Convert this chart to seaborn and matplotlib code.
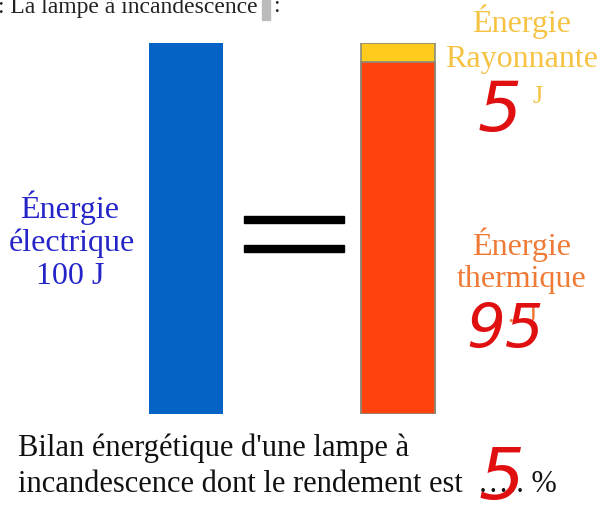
import pandas as pd
import seaborn as sns
import matplotlib.pyplot as plt

# energy balance of an incandescent lamp (J)
categories = ["électrique", "lampe"]
total_energy = [100, 100]
thermal_energy = [0, 95]
radiant_energy = 5
efficiency = 5

sns.set_theme(style="white")
plt.rcParams['font.family'] = ['Liberation Serif', 'DejaVu Serif']

fig = plt.figure(figsize=(6.03, 5.18), dpi=100)
W, H = 603, 518
# bars go from y=414 px (0 J) to y=43 px (100 J)
ax = fig.add_axes([0, (H - 414) / H, 1, (414 - 43) / H])

df = pd.DataFrame({"cat": categories, "total": total_energy, "thermal": thermal_energy})
sns.barplot(data=df, x="cat", y="total", hue="cat", palette=["#0563C6", "#FFCC1E"],
            legend=False, width=0.35, ax=ax, saturation=1)
sns.barplot(data=df, x="cat", y="thermal", color="#FF420E", width=0.35, ax=ax, saturation=1)

# outline only for the lamp bar
for p in ax.patches:
    if abs(p.get_x() + p.get_width() / 2 - 1) < 0.01 and p.get_height() > 0:
        p.set_edgecolor("#8a8a7a")
        p.set_linewidth(1.2)
    else:
        p.set_linewidth(0)

# centers at 186 px and 398 px
step = 398 - 186
ax.set_xlim(-186 / step, 1 + (W - 398) / step)
ax.set_ylim(0, 100)
ax.axis("off")

# equals sign
fig.add_artist(plt.Rectangle((244 / W, 1 - 223 / H), 100 / W, 7 / H, color="black", transform=fig.transFigure))
fig.add_artist(plt.Rectangle((244 / W, 1 - 252 / H), 100 / W, 7 / H, color="black", transform=fig.transFigure))

def txt(x, y, s, **kw):
    fig.text(x / W, 1 - y / H, s, **kw)

fs = 23
txt(-2, 7, ": La lampe à incandescence", fontsize=17, color="#222222", ha="left", va="center")
fig.add_artist(plt.Rectangle((262 / W, 1 - 20 / H), 8 / W, 20 / H, color="#bbbbbb", transform=fig.transFigure))
txt(273, 7, ":", fontsize=17, color="#222222", ha="left", va="center")

blue = "#2424C8"
txt(70, 208, "Énergie", fontsize=fs, color=blue, ha="center", va="center")
txt(72, 243, "électrique", fontsize=fs, color=blue, ha="center", va="center")
txt(70, 276, f"{total_energy[0]} J", fontsize=fs, color=blue, ha="center", va="center")

yellow = "#F5C242"
txt(522, 22, "Énergie", fontsize=fs, color=yellow, ha="center", va="center")
txt(522, 59, "Rayonnante", fontsize=fs, color=yellow, ha="center", va="center")
txt(538, 97, "J", fontsize=fs - 4, color=yellow, ha="center", va="center")

orange = "#EE7A36"
txt(522, 245, "Énergie", fontsize=fs, color=orange, ha="center", va="center")
txt(522, 280, "thermique", fontsize=fs, color=orange, ha="center", va="center")
txt(522, 316, "...J", fontsize=fs - 4, color=orange, ha="center", va="center")

txt(18, 448, "Bilan énergétique d'une lampe à", fontsize=22, color="#111111", ha="left", va="center")
txt(18, 484, "incandescence dont le rendement est  ….. %", fontsize=22, color="#111111", ha="left", va="center")

# handwritten answers
red = "#E01010"
hand = dict(color=red, ha="center", va="center", family="DejaVu Sans", style="italic")
txt(500, 112, str(radiant_energy), fontsize=50, **hand)
txt(505, 330, f"{thermal_energy[1] // 10}{thermal_energy[1] % 10}", fontsize=44, **hand)
txt(502, 480, str(efficiency), fontsize=52, **hand)

fig.savefig("out.png", dpi=100)
